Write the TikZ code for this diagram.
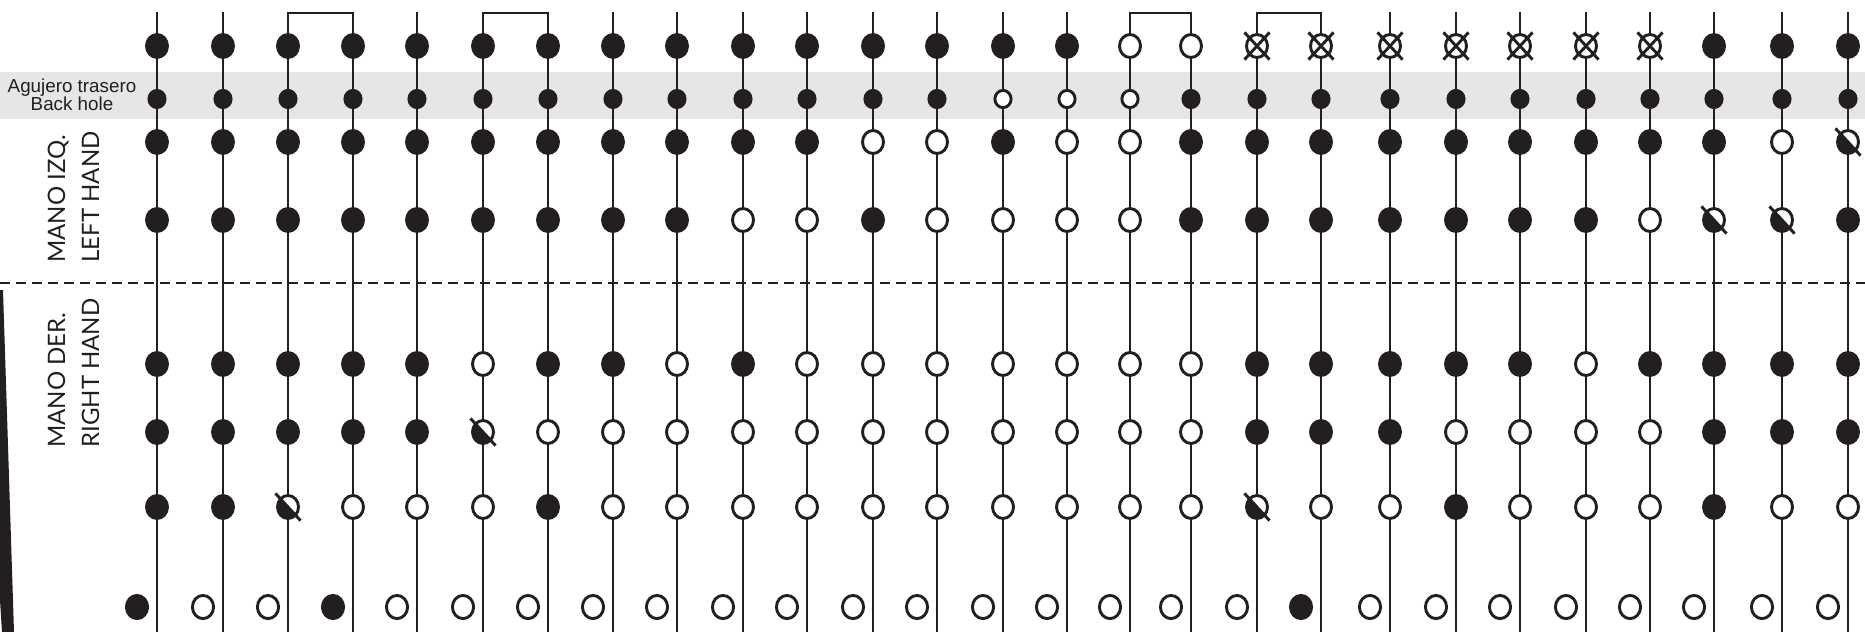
\documentclass[tikz,border=0pt]{standalone}
\usepackage{fontspec}
\usepackage{xcolor}
\usetikzlibrary{shapes.geometric}
\newfontfamily\labelfont{Liberation Sans}
\newfontfamily\handfont{Lato}
\definecolor{ink}{HTML}{231F20}
\definecolor{band}{HTML}{E6E6E6}
\tikzset{
  stem/.style={draw=ink, line width=1.45pt, line cap=rect},
  key/.style={ellipse, draw=ink, line width=1.45pt, inner sep=0pt, minimum width=10.5pt, minimum height=11.5pt},
  thumb/.style={key, minimum width=8.1pt, minimum height=8.6pt},
  foot/.style={key, minimum width=10.6pt, minimum height=11.6pt},
  slash/.style={draw=ink, line width=1.45pt, shorten <=-3pt, shorten >=-3pt},
  kf/.style={fill=ink},
  ko/.style={fill=white},
  kh/.style={fill=white,
    path picture={\fill[ink] (path picture bounding box.north west) -- (path picture bounding box.south east) -- (path picture bounding box.south west) -- cycle;},
    append after command={(\tikzlastnode.north west) edge[slash] (\tikzlastnode.south east)}},
  kx/.style={fill=white,
    append after command={(\tikzlastnode.north west) edge[slash] (\tikzlastnode.south east)
      (\tikzlastnode.north east) edge[slash] (\tikzlastnode.south west)}},
  hand/.style={font=\handfont\fontsize{12}{14}\selectfont, text=ink, rotate=90, anchor=base west, inner sep=0pt}
}
\begin{document}
\begin{tikzpicture}[x=0.5pt, y=-0.5pt]
\useasboundingbox (0,0) rectangle (1865,632);
\fill[band] (0,72) rectangle (1865,119);
\fill[ink] (0,290) -- (3,290) -- (14,632) -- (2,632) -- (0,600) -- cycle;

\coordinate (lend) at (0,283);
\coordinate (rend) at (1865,283);
\draw[ink, line width=1.4pt, dash pattern=on 5pt off 3pt] (lend) -- (rend);

\foreach \x/\tp/\bk/\lha/\lhb/\rha/\rhb/\rhc/\lo [count=\i] in {
  157/f/f/f/f/f/f/f/f, 223/f/f/f/f/f/f/f/o, 288/f/f/f/f/f/f/h/o,
  353/f/f/f/f/f/f/o/f, 417/f/f/f/f/f/f/o/o, 483/f/f/f/f/o/h/o/o,
  548/f/f/f/f/f/o/f/o, 613/f/f/f/f/f/o/o/o, 677/f/f/f/f/o/o/o/o,
  743/f/f/f/o/f/o/o/o, 807/f/f/f/o/o/o/o/o, 873/f/f/o/f/o/o/o/o,
  937/f/f/o/o/o/o/o/o, 1003/f/o/f/o/o/o/o/o, 1067/f/o/o/o/o/o/o/o,
  1130/o/o/o/o/o/o/o/o, 1191/o/f/f/f/o/o/o/o, 1257/x/f/f/f/f/f/h/o,
  1321/x/f/f/f/f/f/o/f, 1390/x/f/f/f/f/f/o/o, 1456/x/f/f/f/f/o/f/o,
  1520/x/f/f/f/f/o/o/o, 1586/x/f/f/f/o/o/o/o, 1650/x/f/f/o/f/o/o/o,
  1714/f/f/f/h/f/f/f/o, 1782/f/f/o/h/f/f/o/o, 1848/f/f/h/f/f/f/o/o} {
  \coordinate (top\i) at (\x,13);
  \coordinate (end\i) at (\x,632);
  \draw[stem] (top\i) -- (end\i);
  \node (t\i) [key, k\tp] at (\x,46) {};
  \node (b\i) [thumb, k\bk] at (\x,99) {};
  \node (la\i) [key, k\lha] at (\x,142) {};
  \node (lb\i) [key, k\lhb] at (\x,220) {};
  \node (ra\i) [key, k\rha] at (\x,364) {};
  \node (rb\i) [key, k\rhb] at (\x,432) {};
  \node (rc\i) [key, k\rhc] at (\x,507) {};
  \node (lo\i) [foot, k\lo] at (\x-20,607) {};
}
\foreach \i/\j in {3/4, 6/7, 16/17, 18/19}
  \draw[stem] (top\i) -- (top\j);

\node (backhole) [font=\labelfont\fontsize{9.4}{9}\selectfont, text=ink, align=center, inner sep=0pt] at (72,95) {Agujero trasero\\Back hole};
\node (lefta) [hand] at (65,263) {MANO IZQ.};
\node (leftb) [hand] at (99,263) {LEFT HAND};
\node (righta) [hand] at (65,448) {MANO DER.};
\node (rightb) [hand] at (99,448) {RIGHT HAND};
\end{tikzpicture}
\end{document}
